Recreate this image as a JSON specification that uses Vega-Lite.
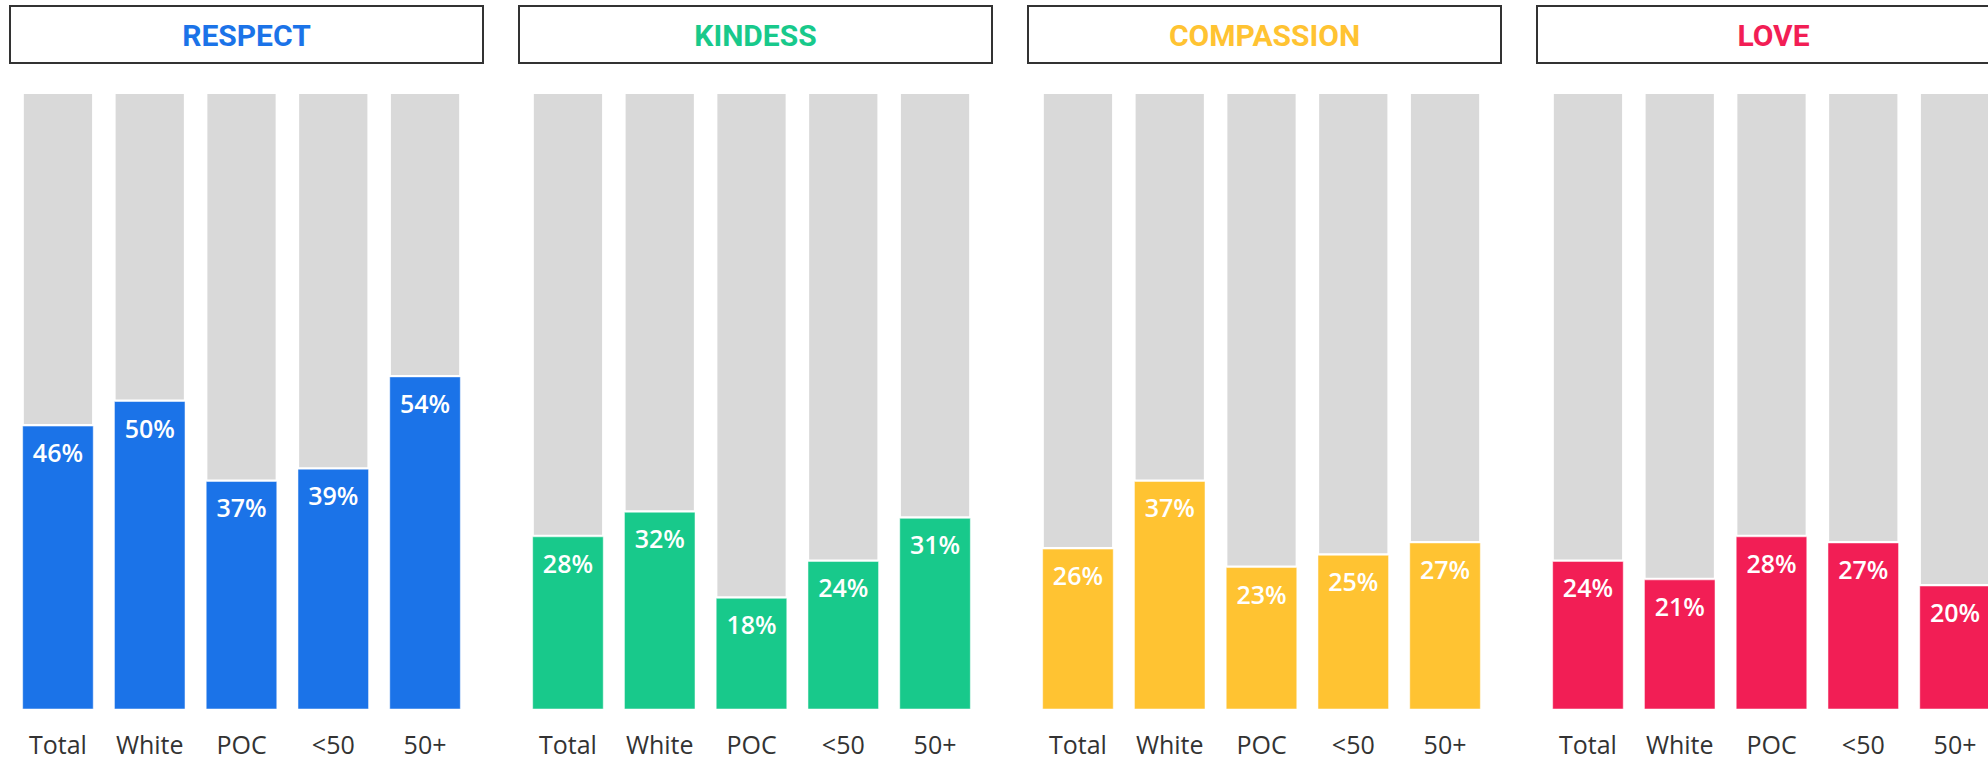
{
  "$schema": "https://vega.github.io/schema/vega-lite/v6.json",
  "padding": {"left": 9, "top": 5, "right": 0, "bottom": 0},
  "background": "white",
  "datasets": {
    "headers": [
      {"cat": "RESPECT"}, {"cat": "KINDESS"}, {"cat": "COMPASSION"}, {"cat": "LOVE"}
    ],
    "bars": [
      {"cat": "RESPECT", "group": "Total", "value": 0.46},
      {"cat": "RESPECT", "group": "White", "value": 0.50},
      {"cat": "RESPECT", "group": "POC", "value": 0.37},
      {"cat": "RESPECT", "group": "<50", "value": 0.39},
      {"cat": "RESPECT", "group": "50+", "value": 0.54},
      {"cat": "KINDESS", "group": "Total", "value": 0.28},
      {"cat": "KINDESS", "group": "White", "value": 0.32},
      {"cat": "KINDESS", "group": "POC", "value": 0.18},
      {"cat": "KINDESS", "group": "<50", "value": 0.24},
      {"cat": "KINDESS", "group": "50+", "value": 0.31},
      {"cat": "COMPASSION", "group": "Total", "value": 0.26},
      {"cat": "COMPASSION", "group": "White", "value": 0.37},
      {"cat": "COMPASSION", "group": "POC", "value": 0.23},
      {"cat": "COMPASSION", "group": "<50", "value": 0.25},
      {"cat": "COMPASSION", "group": "50+", "value": 0.27},
      {"cat": "LOVE", "group": "Total", "value": 0.24},
      {"cat": "LOVE", "group": "White", "value": 0.21},
      {"cat": "LOVE", "group": "POC", "value": 0.28},
      {"cat": "LOVE", "group": "<50", "value": 0.27},
      {"cat": "LOVE", "group": "50+", "value": 0.20}
    ]
  },
  "config": {
    "view": {"stroke": null},
    "font": "Open Sans",
    "axis": {"title": null, "domain": false, "ticks": false, "grid": false, "labelFontSize": 25, "labelColor": "#333333", "labelPadding": 23, "labelFont": "Open Sans"}
  },
  "spacing": 30,
  "vconcat": [
    {
      "data": {"name": "headers"},
      "facet": {"column": {"field": "cat", "type": "nominal", "sort": ["RESPECT", "KINDESS", "COMPASSION", "LOVE"], "header": null}},
      "spacing": 34,
      "spec": {
        "width": 473,
        "height": 57,
        "view": {"stroke": "#333333", "strokeWidth": 2, "fill": "white"},
        "mark": {"type": "text", "font": "Roboto", "fontWeight": "bold", "fontSize": 30, "baseline": "middle", "align": "center", "dy": 2},
        "encoding": {
          "text": {"field": "cat", "type": "nominal"},
          "color": {"field": "cat", "type": "nominal", "legend": null,
            "scale": {"domain": ["RESPECT", "KINDESS", "COMPASSION", "LOVE"], "range": ["#1B73E8", "#18C98B", "#FFC332", "#F21E55"]}}
        }
      }
    },
    {
      "data": {"name": "bars"},
      "facet": {"column": {"field": "cat", "type": "nominal", "sort": ["RESPECT", "KINDESS", "COMPASSION", "LOVE"], "header": null}},
      "spacing": 47,
      "spec": {
        "width": 463,
        "height": 615,
        "encoding": {
          "x": {"field": "group", "type": "nominal", "sort": ["Total", "White", "POC", "<50", "50+"],
            "scale": {"paddingInner": 0.231, "paddingOuter": 0.138},
            "axis": {"labelAngle": 0}}
        },
        "layer": [
          {
            "mark": {"type": "bar", "color": "#D9D9D9", "width": {"band": 0.967}, "yOffset": -2},
            "encoding": {
              "y": {"field": "value", "type": "quantitative", "scale": {"domain": [0, 1]}, "axis": null},
              "y2": {"datum": 1}
            }
          },
          {
            "mark": {"type": "bar", "stroke": "white", "strokeWidth": 1, "strokeOpacity": 0.5},
            "encoding": {
              "y": {"field": "value", "type": "quantitative", "scale": {"domain": [0, 1]}, "axis": null},
              "color": {"field": "cat", "type": "nominal", "legend": null,
                "scale": {"domain": ["RESPECT", "KINDESS", "COMPASSION", "LOVE"], "range": ["#1B73E8", "#18C98B", "#FFC332", "#F21E55"]}}
            }
          },
          {
            "mark": {"type": "text", "color": "white", "fontSize": 25, "fontWeight": 600, "font": "Open Sans", "baseline": "alphabetic", "align": "center", "dy": 36},
            "encoding": {
              "y": {"field": "value", "type": "quantitative", "scale": {"domain": [0, 1]}, "axis": null},
              "text": {"field": "value", "type": "quantitative", "format": ".0%"}
            }
          }
        ]
      }
    }
  ]
}
